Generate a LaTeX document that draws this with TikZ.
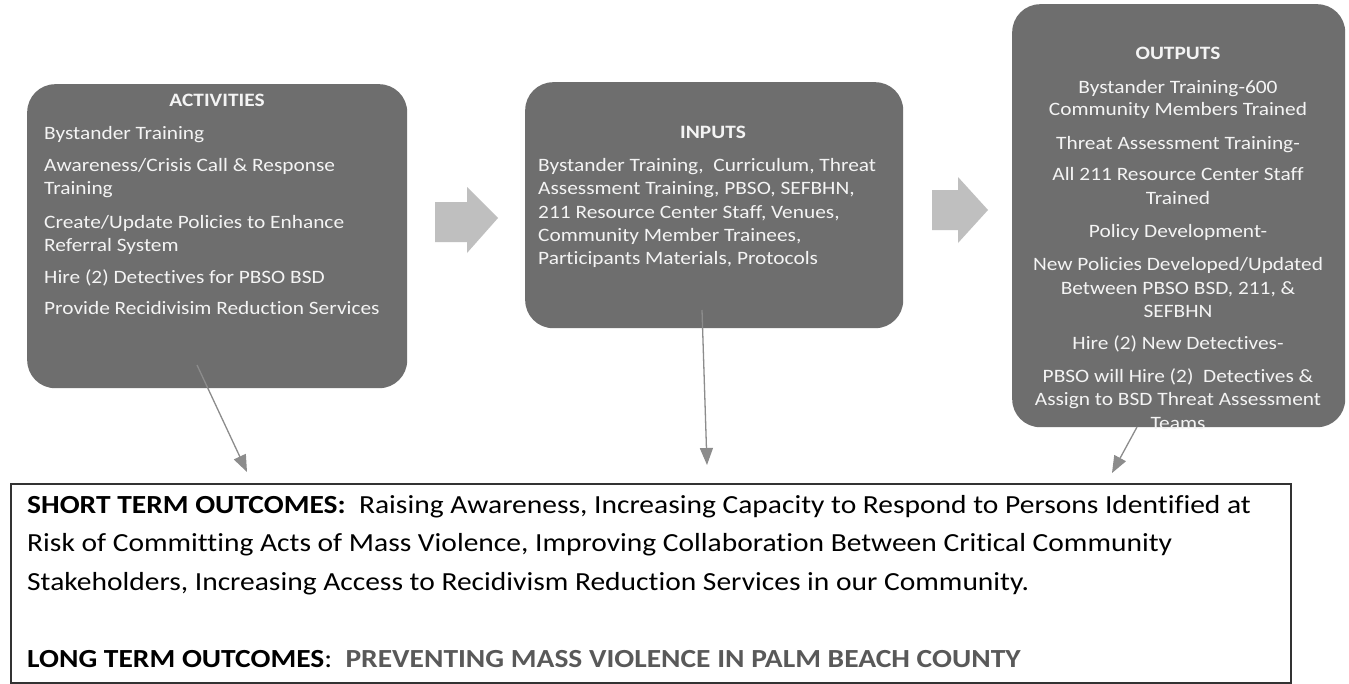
\documentclass[tikz,border=0pt]{standalone}
\usepackage{fontspec}
\setmainfont{Carlito}[FakeStretch=1.13, Ligatures=NoCommon]
\usetikzlibrary{arrows.meta}
\definecolor{boxgray}{HTML}{6E6E6E}
\definecolor{arrowgray}{HTML}{BFBFBF}
\definecolor{conngray}{HTML}{8C8C8C}
\definecolor{bordergray}{HTML}{333333}
\definecolor{longgray}{HTML}{595959}
\definecolor{wtext}{HTML}{F4F4F4}
\tikzset{
  box/.style={fill=boxgray, draw=none, rounded corners=28pt, inner sep=0pt, anchor=north west},
  wl/.style={text=wtext, font=\fontsize{18.9}{23}\selectfont, anchor=base west, inner sep=0pt},
  wc/.style={wl, anchor=base},
  ttl/.style={wc, font=\bfseries\fontsize{18.9}{23}\selectfont},
  bl/.style={text=black, font=\fontsize{26.1}{32}\selectfont, anchor=base west, inner sep=0pt},
  conn/.style={draw=conngray, line width=1.3pt, -{Triangle[length=17pt,width=13pt]}},
  blockarrow/.style={fill=arrowgray, draw=none},
}
\begin{document}
\begin{tikzpicture}[x=1pt,y=-1pt]
\useasboundingbox (0,0) rectangle (1349,683);
\fill[white] (0,0) rectangle (1349,683);

% boxes
\node[box, minimum width=380pt, minimum height=304pt] (act) at (27,84) {};
\node[box, minimum width=378pt, minimum height=246pt] (inp) at (525,82) {};
\node[box, minimum width=333pt, minimum height=423pt] (outp) at (1012,4) {};

% block arrows
\fill[blockarrow] (435,202) -- (467,202) -- (467,187) -- (498,218) -- (467,253) -- (467,242) -- (435,242) -- cycle;
\fill[blockarrow] (932,190) -- (958,190) -- (958,177) -- (988,210) -- (958,243) -- (958,230) -- (932,230) -- cycle;

% activities text
\node[ttl] (actT) at (217,106) {ACTIVITIES};
\node[wl] (a1) at (44,139) {Bystander Training};
\node[wl] (a2) at (44,171) {Awareness/Crisis Call \& Response};
\node[wl] (a3) at (44,194) {Training};
\node[wl] (a4) at (44,228) {Create/Update Policies to Enhance};
\node[wl] (a5) at (44,251) {Referral System};
\node[wl] (a6) at (44,283) {Hire (2) Detectives for PBSO BSD};
\node[wl] (a7) at (44,314) {Provide Recidivisim Reduction Services};

% inputs text
\node[ttl] (inpT) at (713,138) {INPUTS};
\node[wl] (i1) at (538,171) {Bystander Training,\ \ Curriculum, Threat};
\node[wl] (i2) at (538,194) {Assessment Training, PBSO, SEFBHN,};
\node[wl] (i3) at (538,218) {211 Resource Center Staff, Venues,};
\node[wl] (i4) at (538,241) {Community Member Trainees,};
\node[wl] (i5) at (538,264) {Participants Materials, Protocols};

% outputs text
\node[ttl] (outT) at (1178,59) {OUTPUTS};
\node[wc] (o1) at (1178,93) {Bystander Training-600};
\node[wc] (o2) at (1178,115) {Community Members Trained};
\node[wc] (o3) at (1178,149) {Threat Assessment Training-};
\node[wc] (o4) at (1178,180) {All 211 Resource Center Staff};
\node[wc] (o5) at (1178,204) {Trained};
\node[wc] (o6) at (1178,237) {Policy Development-};
\node[wc] (o7) at (1178,270) {New Policies Developed/Updated};
\node[wc] (o8) at (1178,294) {Between PBSO BSD, 211, \&};
\node[wc] (o9) at (1178,317) {SEFBHN};
\node[wc] (o10) at (1178,349) {Hire (2) New Detectives-};
\node[wc] (o11) at (1178,382) {PBSO will Hire (2)\ \ Detectives \&};
\node[wc] (o12) at (1178,405) {Assign to BSD Threat Assessment};
\node[wc] (o13) at (1178,429) {Teams};

% outcomes box
\node[draw=bordergray, line width=1.5pt, minimum width=1280pt, minimum height=199pt, inner sep=0pt, anchor=north west] (outc) at (10,483) {};
\node[bl] (s1) at (27,513) {\textbf{SHORT TERM OUTCOMES:}\ \ Raising Awareness, Increasing Capacity to Respond to Persons Identified at};
\node[bl] (s2) at (27,551.5) {Risk of Committing Acts of Mass Violence, Improving Collaboration Between Critical Community};
\node[bl] (s3) at (27,590) {Stakeholders, Increasing Access to Recidivism Reduction Services in our Community.};
\node[bl] (l1) at (27,667) {\textbf{LONG TERM OUTCOMES}:\ \ \textcolor{longgray}{\textbf{PREVENTING MASS VIOLENCE IN PALM BEACH COUNTY}}};

% connectors
\coordinate (c1s) at (197,365);
\coordinate (c1e) at (247,472);
\coordinate (c2s) at (702,310);
\coordinate (c2e) at (707,465);
\coordinate (c3s) at (1137,427);
\coordinate (c3e) at (1112,473);
\draw[conn] (c1s) -- (c1e);
\draw[conn] (c2s) -- (c2e);
\draw[conn] (c3s) -- (c3e);
\end{tikzpicture}
\end{document}
